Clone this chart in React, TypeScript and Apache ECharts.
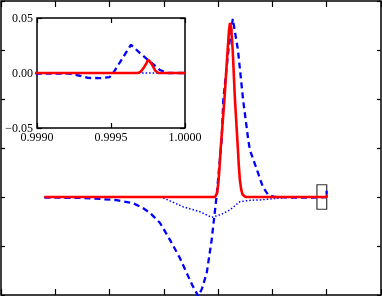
import React, { useEffect, useRef } from "react";
import * as echarts from "echarts";

// Main panel: solid red curve
const redCurve: [number, number][] = [
  [-0.04, 0], [0.588, 0], [0.596, 0.015], [0.601, 0.06], [0.605, 0.12], [0.6095, 0.2],
  [0.623, 0.396], [0.635, 0.6], [0.64, 0.68], [0.6437, 0.71], [0.648, 0.69], [0.6536, 0.6],
  [0.662, 0.396], [0.673, 0.192], [0.676, 0.13], [0.68, 0.07], [0.685, 0.03], [0.69, 0.01],
  [0.698, 0.002], [0.705, 0],
  // fine structure near x = 1 (seen in inset)
  [0.999, 0], [0.99968, 0], [0.9997, 0.001], [0.99972, 0.0045], [0.99974, 0.009],
  [0.99975, 0.0118], [0.99976, 0.011], [0.99978, 0.007], [0.99979, 0.0045], [0.9998, 0.002],
  [0.99982, 0], [1.0, 0],
];

// Blue dashed curve
const blueDashed: [number, number][] = [
  [-0.04, -0.002], [0.1, -0.004], [0.165, -0.008], [0.227, -0.013], [0.286, -0.025], [0.323, -0.045],
  [0.349, -0.065], [0.386, -0.106], [0.423, -0.176], [0.459, -0.249], [0.484, -0.31],
  [0.505, -0.36], [0.527, -0.405], [0.54, -0.375], [0.558, -0.31], [0.576, -0.176], [0.594, 0],
  [0.613, 0.233], [0.619, 0.396], [0.638, 0.6], [0.654, 0.727], [0.673, 0.6], [0.692, 0.396],
  [0.711, 0.233], [0.717, 0.192], [0.747, 0.098], [0.765, 0.04], [0.785, 0.008], [0.81, 0.0],
  [0.86, -0.002], [0.95, -0.002],
  // fine structure near x = 1
  [0.999, -0.0006], [0.99922, -0.0006], [0.99929, -0.0025], [0.999345, -0.0045], [0.99943, -0.0046],
  [0.99949, -0.0038], [0.999515, 0], [0.999635, 0.0257], [0.999696, 0.018], [0.999764, 0.0103],
  [0.999831, 0.0027], [0.999878, 0], [1.0, 0],
];

// Blue dotted curve
const blueDotted: [number, number][] = [
  [-0.04, 0], [0.39, 0], [0.423, -0.016], [0.471, -0.04], [0.533, -0.06], [0.576, -0.083],
  [0.61, -0.072], [0.643, -0.053], [0.68, -0.019], [0.72, -0.013], [0.754, -0.012], [0.8, -0.007],
  [0.865, -0.001], [0.95, 0], [1.0, 0],
];

// Zoom box drawn on main panel: [[x0, y0], [x1, y1]]
const zoomBox: [number, number][] = [[0.964, -0.05], [1.0, 0.05]];

// Axis ranges
const mainX = { min: -0.2, max: 1.2, interval: 0.2 };
const mainY = { min: -0.4, max: 0.8, interval: 0.2 };
const insetX = { min: 0.999, max: 1.0, interval: 0.0005 };
const insetY = { min: -0.05, max: 0.05, interval: 0.05 };

const FONT = "Liberation Serif";

export default function App() {
  const ref = useRef<HTMLDivElement>(null);
  useEffect(() => {
    if (!ref.current) return;
    const chart = echarts.init(ref.current, undefined, { renderer: "svg" });

    const tickOnly = (len: number) => ({
      axisLine: { show: false, onZero: false },
      axisTick: { show: true, inside: true, length: len, lineStyle: { color: "#000", width: 1.2 } },
      axisLabel: { show: false },
      splitLine: { show: false },
    });
    const labelStyle = { color: "#000", fontFamily: FONT, fontSize: 12 };

    const red = { color: "#ff0000", width: 2.6 };
    const dashed = { color: "#0000ff", width: 2.3, type: [6, 4] as number[] };
    const dotted = { color: "#0000ff", width: 1.5, type: [1.5, 2] as number[] };

    const mk = (name: string, data: [number, number][], ls: any, xi: number, yi: number, z: number, extra: any = {}) => ({
      name,
      type: "line",
      data,
      xAxisIndex: xi,
      yAxisIndex: yi,
      showSymbol: false,
      symbol: "none",
      clip: true,
      z,
      lineStyle: ls,
      ...extra,
    });

    chart.setOption({
      animation: false,
      grid: [
        { left: 1, top: 1, width: 380, height: 294, show: true, borderColor: "#000", borderWidth: 1.5, backgroundColor: "transparent" },
        { left: 37, top: 18, width: 148, height: 110, show: true, borderColor: "#000", borderWidth: 1.5, backgroundColor: "#fff", z: 5 },
      ],
      xAxis: [
        { type: "value", gridIndex: 0, position: "bottom", ...mainX, ...tickOnly(6) },
        { type: "value", gridIndex: 0, position: "top", ...mainX, ...tickOnly(6) },
        {
          type: "value", gridIndex: 1, position: "bottom", ...insetX, z: 6,
          axisLine: { show: false, onZero: false },
          axisTick: { show: true, inside: true, length: 5, lineStyle: { color: "#000", width: 1.2 } },
          axisLabel: { show: true, margin: 3, ...labelStyle, formatter: (v: number) => v.toFixed(4) },
          splitLine: { show: false },
        },
        { type: "value", gridIndex: 1, position: "top", ...insetX, z: 6, ...tickOnly(5) },
      ],
      yAxis: [
        { type: "value", gridIndex: 0, position: "left", ...mainY, ...tickOnly(4) },
        { type: "value", gridIndex: 0, position: "right", ...mainY, ...tickOnly(4) },
        {
          type: "value", gridIndex: 1, position: "left", ...insetY, z: 6,
          axisLine: { show: false, onZero: false },
          axisTick: { show: true, inside: true, length: 5, lineStyle: { color: "#000", width: 1.2 } },
          axisLabel: {
            show: true, margin: 4, ...labelStyle,
            formatter: (v: number) => (v < -1e-9 ? "\u2212" : "") + Math.abs(v).toFixed(2),
          },
          splitLine: { show: false },
        },
        { type: "value", gridIndex: 1, position: "right", ...insetY, z: 6, ...tickOnly(5) },
      ],
      series: [
        mk("dotted", blueDotted, dotted, 0, 0, 2),
        mk("dashed", blueDashed, dashed, 0, 0, 3),
        mk("red", redCurve, red, 0, 0, 4, {
          markArea: {
            silent: true,
            itemStyle: { color: "transparent", borderColor: "#333", borderWidth: 1.2 },
            data: [[{ coord: zoomBox[0] }, { coord: zoomBox[1] }]],
          },
        }),
        mk("dotted-inset", blueDotted, dotted, 2, 2, 7),
        mk("dashed-inset", blueDashed, dashed, 2, 2, 8),
        mk("red-inset", redCurve, red, 2, 2, 9),
      ],
    });
    return () => chart.dispose();
  }, []);
  return <div ref={ref} style={{ position: "fixed", left: 0, top: 0, width: 382, height: 296 }} />;
}
